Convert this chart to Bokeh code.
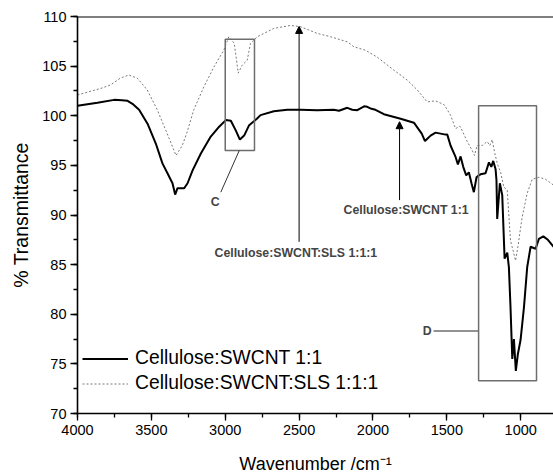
from bokeh.plotting import figure
from bokeh.models import (Range1d, SingleIntervalTicker, Legend, LegendItem, Label,
                          Arrow, NormalHead, Span, ColumnDataSource)
from bokeh.embed import file_html
from bokeh.resources import INLINE

# --- data ---
swcnt_wn = [4000, 3865, 3752, 3700, 3661, 3628, 3583, 3526, 3470, 3425, 3391, 3357, 3339, 3323,
            3278, 3255, 3221, 3165, 3098, 3041, 2996, 2962, 2928, 2901, 2872, 2838, 2786, 2761,
            2671, 2580, 2490, 2377, 2265, 2230, 2174, 2140, 2106, 2060, 2039, 2010, 1983, 1926,
            1813, 1723, 1670, 1648, 1610, 1576, 1509, 1497, 1475, 1441, 1425, 1407, 1389, 1369,
            1351, 1333, 1317, 1299, 1283, 1272, 1238, 1215, 1199, 1186, 1170, 1164, 1159, 1141,
            1125, 1109, 1091, 1080, 1069, 1057, 1046, 1033, 1019, 1001, 978, 956, 933, 899, 877,
            847, 816, 777]
swcnt_T = [101.0, 101.3, 101.6, 101.55, 101.5, 101.2, 100.6, 99.2, 97.2, 95.2, 94.2, 93.2, 92.06, 92.7,
           92.7, 93.2, 94.5, 96.2, 97.9, 98.9, 99.56, 99.5, 98.5, 97.6, 98.0, 99.05, 99.7, 100.06,
           100.46, 100.6, 100.6, 100.56, 100.6, 100.5, 100.8, 100.6, 100.56, 100.95, 100.9, 100.7, 100.6, 100.16,
           99.7, 99.3, 98.2, 97.45, 98.0, 98.3, 98.1, 98.1, 97.0, 95.85, 95.1, 95.9, 94.85, 94.0,
           94.3, 93.2, 92.3, 93.8, 94.0, 94.1, 94.2, 95.3, 94.85, 95.45, 94.6, 93.5, 89.6, 93.2,
           92.0, 85.6, 86.2, 84.75, 80.7, 75.5, 77.5, 74.3, 76.0, 77.4, 80.7, 84.75, 86.8, 86.6, 87.6,
           87.85, 87.5, 86.8]

sls_wn = [4000, 3843, 3777, 3709, 3653, 3596, 3528, 3460, 3393, 3333, 3291, 3257, 3213, 3145,
          3077, 3010, 2976, 2939, 2912, 2885, 2851, 2829, 2783, 2671, 2558, 2490, 2377, 2287,
          2174, 2129, 2050, 1971, 1859, 1768, 1700, 1633, 1576, 1517, 1475, 1441, 1412, 1396,
          1362, 1328, 1313, 1295, 1261, 1227, 1209, 1193, 1175, 1159, 1136, 1114, 1091, 1069,
          1051, 1035, 1019, 990, 956, 922, 877, 832, 777]
sls_T = [102.1, 102.75, 103.1, 103.8, 104.1, 103.8, 102.6, 100.6, 98.2, 96.0, 97.0, 98.4, 100.6, 102.9,
         104.9, 106.6, 107.96, 107.3, 104.3, 105.1, 105.6, 107.3, 107.96, 108.8, 109.1, 108.97, 108.3, 107.96,
         107.45, 106.95, 106.6, 105.9, 104.6, 103.6, 102.6, 101.4, 101.5, 101.1, 100.06, 98.7, 98.95, 98.5,
         97.4, 96.5, 96.0, 97.0, 97.0, 97.4, 97.0, 97.6, 96.2, 95.2, 94.3, 92.8, 92.5, 87.4,
         86.4, 85.4, 86.8, 89.8, 92.2, 93.6, 93.8, 93.6, 93.0]

series_names = ["Cellulose:SWCNT 1:1", "Cellulose:SWCNT:SLS 1:1:1"]
x_label = "Wavenumber /cm\u207b\u00b9"
y_label = "% Transmittance"

FONT = "Liberation Sans"

p = figure(width=553, height=476, output_backend="svg", toolbar_location=None,
           x_range=Range1d(4000, 778), y_range=Range1d(70, 110),
           min_border_left=77, min_border_right=0, min_border_top=16, min_border_bottom=63)
p.background_fill_color = "white"
p.border_fill_color = "white"
p.outline_line_color = None
p.grid.visible = False

for ax in (p.xaxis[0], p.yaxis[0]):
    ax.axis_line_width = 1.6
    ax.axis_line_color = "black"
    ax.major_tick_line_color = "black"
    ax.minor_tick_line_color = "black"
    ax.major_tick_line_width = 1.3
    ax.minor_tick_line_width = 1.3
    ax.major_tick_out = 7
    ax.major_tick_in = 0
    ax.minor_tick_out = 4
    ax.minor_tick_in = 0
    ax.major_label_text_font = FONT
    ax.major_label_text_font_size = "14.5px"
    ax.major_label_text_color = "black"
    ax.axis_label_text_font = FONT
    ax.axis_label_text_font_style = "normal"
    ax.axis_label_text_color = "black"

p.xaxis[0].ticker = SingleIntervalTicker(interval=500, num_minor_ticks=2)
p.yaxis[0].ticker = SingleIntervalTicker(interval=5, num_minor_ticks=2)
p.xaxis[0].axis_label = x_label
p.yaxis[0].axis_label = y_label
p.xaxis[0].axis_label_text_font_size = "18px"
p.yaxis[0].axis_label_text_font_size = "19.5px"
p.xaxis[0].major_label_standoff = 4
p.yaxis[0].major_label_standoff = 4
p.xaxis[0].axis_label_standoff = 16
p.yaxis[0].axis_label_standoff = 7

# top frame line
p.add_layout(Span(location=110, dimension="width", line_color="black", line_width=2))

src1 = ColumnDataSource(dict(x=swcnt_wn, y=swcnt_T))
src2 = ColumnDataSource(dict(x=sls_wn, y=sls_T))
r2 = p.line("x", "y", source=src2, line_color="#7a7a7a", line_width=1, line_dash="2 2")
r1 = p.line("x", "y", source=src1, line_color="black", line_width=2)

# boxes C and D
BOX = "#6e6e6e"
p.quad(left=[3000], right=[2802], bottom=[96.5], top=[107.7], fill_color=None,
       line_color=BOX, line_width=1.5)
p.quad(left=[1285], right=[893], bottom=[73.3], top=[101.0], fill_color=None,
       line_color=BOX, line_width=1.5)
p.segment(x0=[2905], y0=[96.5], x1=[3030], y1=[92.3], line_color="#333333", line_width=1)
p.segment(x0=[1590], y0=[78.3], x1=[1285], y1=[78.3], line_color=BOX, line_width=1.5)

p.add_layout(Label(x=3068, y=91.3, text="C", text_font=FONT, text_font_size="12.3px",
                   text_font_style="bold", text_align="center", text_baseline="middle"))
p.add_layout(Label(x=1633, y=78.3, text="D", text_font=FONT, text_font_size="12.3px",
                   text_font_style="bold", text_align="center", text_baseline="middle"))

# arrows
p.add_layout(Arrow(end=NormalHead(size=7, fill_color="black", line_color="black"),
                   x_start=2500, y_start=87.3, x_end=2500, y_end=109.0,
                   line_color="black", line_width=1))
p.add_layout(Arrow(end=NormalHead(size=7, fill_color="black", line_color="black"),
                   x_start=1820, y_start=91.5, x_end=1820, y_end=99.4,
                   line_color="black", line_width=1))
p.add_layout(Label(x=2522, y=86.2, text=series_names[1], text_font=FONT, text_font_size="12.3px",
                   text_font_style="bold", text_align="center", text_baseline="middle"))
p.add_layout(Label(x=1776, y=90.5, text=series_names[0], text_font=FONT, text_font_size="12.3px",
                   text_font_style="bold", text_align="center", text_baseline="middle"))

legend = Legend(items=[LegendItem(label=series_names[0], renderers=[r1]),
                       LegendItem(label=series_names[1], renderers=[r2])],
                location=(5, 19))
legend.border_line_color = None
legend.background_fill_alpha = 0
legend.padding = 0
legend.margin = 0
legend.spacing = 3
legend.glyph_width = 46
legend.glyph_height = 21
legend.label_height = 21
legend.label_standoff = 7
legend.label_text_font = FONT
legend.label_text_font_size = "19.3px"
legend.label_text_color = "black"
p.add_layout(legend)

open("out.html", "w").write(file_html(p, INLINE))
